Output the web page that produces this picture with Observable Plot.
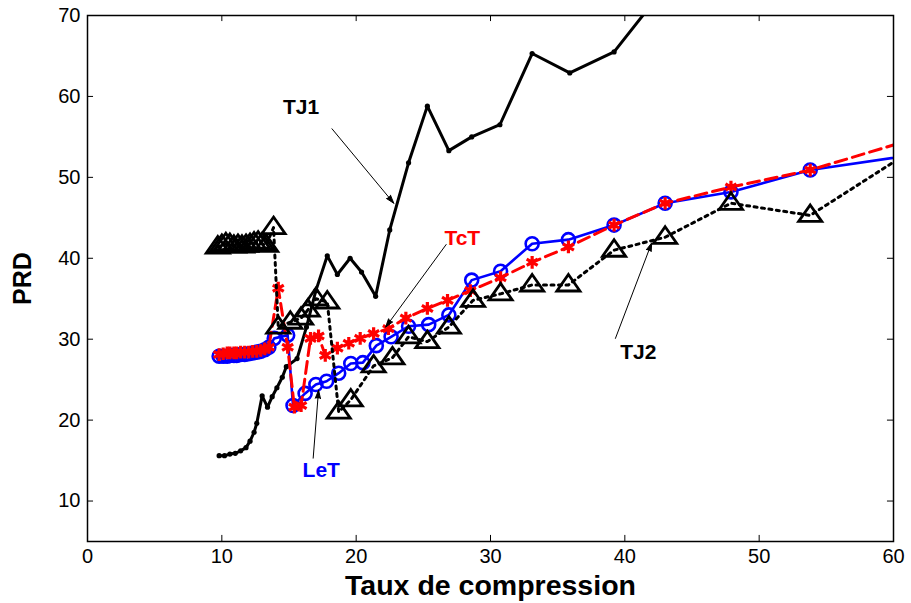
<!DOCTYPE html>
<html><head><meta charset="utf-8">
<script src="https://cdn.jsdelivr.net/npm/d3@7"></script>
<script src="https://cdn.jsdelivr.net/npm/@observablehq/plot@0.6"></script>
<style>body{margin:0;background:#fff}</style>
</head><body><div id="chart"></div>
<script>
// Tick values
const xTicks = [0, 10, 20, 30, 40, 50, 60];
const yTicks = [10, 20, 30, 40, 50, 60, 70];

// TJ1 (black solid, small dots)
const tj1X = [9.8,10.2,10.6,11.0,11.4,11.8,12.1,12.4,12.6,13.0,13.4,13.75,14.1,14.5,14.8,15.6,16.3,17.0,17.85,18.6,19.55,20.4,21.45,22.5,23.9,25.3,26.9,28.6,30.7,33.1,35.9,39.2,43.0];
const tj1Y = [15.6,15.6,15.8,15.9,16.2,16.6,17.4,18.5,19.6,23.0,21.6,22.9,24.0,25.3,26.6,27.6,31.5,36.0,40.3,38.0,40.0,38.3,35.3,43.5,51.8,58.8,53.3,55.0,56.5,65.3,62.9,65.5,73.5];

// LeT (blue solid, circles)
const letX = [9.8,10.1,10.4,10.6,10.9,11.1,11.4,11.7,12.0,12.3,12.6,12.9,13.2,13.5,13.9,14.9,15.3,16.2,17.0,17.8,18.7,19.6,20.5,21.5,22.6,23.9,25.4,26.9,28.6,30.75,33.1,35.8,39.2,43.0,47.9,53.8,62.0];
const letY = [27.9,27.9,27.9,28.0,28.0,28.0,28.1,28.1,28.2,28.3,28.4,28.5,28.7,29.0,30.1,30.5,21.8,23.3,24.4,24.8,25.8,27.0,27.1,29.2,30.3,31.6,31.8,33.0,37.3,38.4,41.8,42.3,44.1,46.8,48.2,50.9,52.9];

// TcT (red dashed, stars)
const tctX = [9.8,10.1,10.4,10.6,10.9,11.1,11.4,11.7,12.0,12.3,12.6,12.9,13.2,13.5,14.2,14.9,15.4,15.9,16.6,17.2,17.7,18.6,19.45,20.3,21.3,22.4,23.7,25.3,26.8,28.5,30.75,33.1,35.8,39.2,43.0,47.9,53.8,62.0];
const tctY = [28.1,28.2,28.3,28.3,28.3,28.3,28.4,28.4,28.4,28.5,28.5,28.6,28.8,29.0,36.3,29.0,21.6,21.8,30.1,30.4,28.0,28.9,29.5,30.1,30.7,31.3,32.6,33.8,34.8,36.0,37.6,39.5,41.4,44.1,46.8,48.8,50.9,55.0];

// TJ2 (black dotted, triangles)
const tj2X = [9.7,10.0,10.3,10.6,10.9,11.2,11.5,11.8,12.1,12.4,12.7,13.0,13.3,13.85,14.2,15.1,15.9,16.4,17.0,17.85,18.7,19.6,21.3,22.7,23.9,25.3,26.9,28.7,30.75,33.1,35.8,39.2,43.0,47.9,53.8,62.0];
const tj2Y = [41.4,41.6,41.8,41.7,41.5,41.6,41.5,41.6,41.7,41.9,42.0,41.8,41.6,43.8,31.5,32.1,32.6,33.6,35.0,34.6,21.0,22.5,26.7,27.7,30.3,29.7,31.5,34.8,35.6,36.7,36.7,41.0,42.6,46.8,45.3,54.0];

// Annotation labels and arrows
const labelNames = ["TJ1", "TcT", "LeT", "TJ2"];
const labelColors = ["black", "red", "blue", "black"];
const labelX = [15.9, 27.9, 17.4, 41.0];
const labelY = [58.6, 42.5, 13.8, 28.4];
const arrowX1 = [18.2, 26.7, 16.8, 39.3];
const arrowY1 = [56.0, 41.7, 15.3, 30.1];
const arrowX2 = [22.8, 22.2, 17.2, 42.0];
const arrowY2 = [46.8, 31.5, 23.7, 41.9];

const zip = (xs, ys) => xs.map((x, i) => ({x, y: ys[i]}));
const tj1 = zip(tj1X, tj1Y), let_ = zip(letX, letY), tct = zip(tctX, tctY), tj2 = zip(tj2X, tj2Y);
const labels = labelNames.map((t, i) => ({t, c: labelColors[i], x: labelX[i], y: labelY[i]}));
const arrows = arrowX1.map((x1, i) => ({x1, y1: arrowY1[i], x2: arrowX2[i], y2: arrowY2[i]}));

const triangle = {
  draw(context, size) {
    const r = Math.sqrt(size / Math.PI);
    context.moveTo(0, -r * 0.95);
    context.lineTo(r * 1.05, r * 0.55);
    context.lineTo(-r * 1.05, r * 0.55);
    context.closePath();
  }
};

const chart = Plot.plot({
  width: 911,
  height: 603,
  marginLeft: 87,
  marginRight: 18,
  marginTop: 15,
  marginBottom: 62,
  style: {fontFamily: "'Liberation Sans', Arial, sans-serif", fontSize: "20px", background: "white"},
  x: {domain: [0, 60]},
  y: {domain: [5, 70]},
  marks: [
    Plot.axisX({ticks: xTicks, tickSize: 0, tickPadding: 7, fontSize: 20, label: null}),
    Plot.axisY({ticks: yTicks, tickSize: 0, tickPadding: 7, fontSize: 20, label: null}),
    // inward ticks
    Plot.ruleX(xTicks.slice(1, -1), {x: d => d, y1: 5, y2: 5.75, stroke: "black", strokeWidth: 1}),
    Plot.ruleX(xTicks.slice(1, -1), {x: d => d, y1: 70, y2: 69.25, stroke: "black", strokeWidth: 1}),
    Plot.ruleY(yTicks.slice(0, -1), {y: d => d, x1: 0, x2: 0.45, stroke: "black", strokeWidth: 1}),
    Plot.ruleY(yTicks.slice(0, -1), {y: d => d, x1: 60, x2: 59.55, stroke: "black", strokeWidth: 1}),
    // TJ1
    Plot.line(tj1, {x: "x", y: "y", stroke: "black", strokeWidth: 3, clip: true}),
    Plot.dot(tj1, {x: "x", y: "y", r: 2.6, fill: "black", clip: true}),
    // LeT
    Plot.line(let_, {x: "x", y: "y", stroke: "#0000ff", strokeWidth: 2.6, clip: true}),
    Plot.dot(let_, {x: "x", y: "y", r: 6.5, stroke: "#0000ff", strokeWidth: 2.6, fill: "none", clip: true}),
    // TcT
    Plot.line(tct, {x: "x", y: "y", stroke: "#ff0000", strokeWidth: 3, strokeDasharray: "12,6", clip: true}),
    Plot.dot(tct, {x: "x", y: "y", r: 6, symbol: "asterisk", stroke: "#ff0000", strokeWidth: 3.2, clip: true}),
    // TJ2
    Plot.line(tj2, {x: "x", y: "y", stroke: "black", strokeWidth: 3, strokeDasharray: "3,4.5", clip: true}),
    Plot.dot(tj2, {x: "x", y: "y", r: 11, symbol: triangle, stroke: "black", strokeWidth: 2.8, fill: "none", clip: true}),
    // annotations
    Plot.arrow(arrows, {x1: "x1", y1: "y1", x2: "x2", y2: "y2", stroke: "black", fill: "black", strokeWidth: 1, headLength: 13, headAngle: 35}),
    Plot.text(labels, {x: "x", y: "y", text: "t", fill: "c", fontSize: 21, fontWeight: "bold"}),
    // axis titles
    Plot.text(["Taux de compression"], {frameAnchor: "bottom", dy: 53, fontSize: 28.5, fontWeight: "bold", fill: "black", text: d => d}),
    Plot.text(["PRD"], {frameAnchor: "left", textAnchor: "middle", dx: -65, rotate: -90, fontSize: 25, fontWeight: "bold", fill: "black", text: d => d}),
    Plot.frame({stroke: "black", strokeWidth: 1.5})
  ]
});
document.getElementById("chart").appendChild(chart);
</script>
</body></html>
